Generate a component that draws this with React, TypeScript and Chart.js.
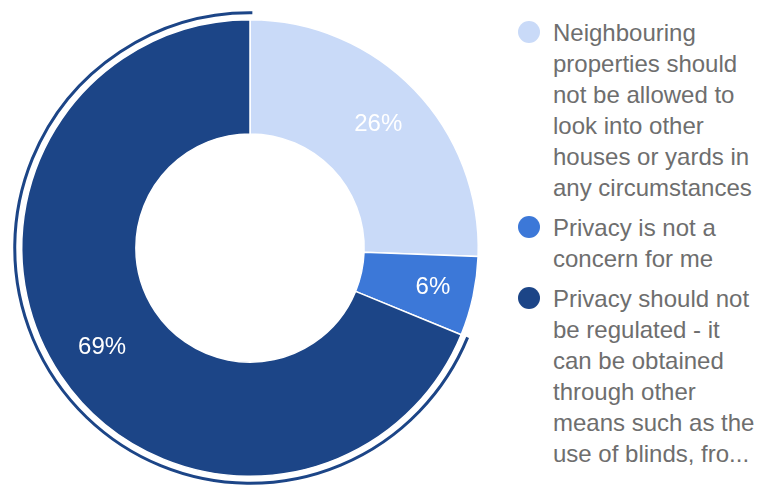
import React, { useEffect, useRef } from "react";
import { Chart, registerables } from "chart.js";

Chart.register(...registerables);

// Category labels (as wrapped in the legend)
const categoryLines: string[][] = [
  ["Neighbouring", "properties should", "not be allowed to", "look into other", "houses or yards in", "any circumstances"],
  ["Privacy is not a", "concern for me"],
  ["Privacy should not", "be regulated - it", "can be obtained", "through other", "means such as the", "use of blinds, fro..."],
];
const categories: string[] = categoryLines.map((l) => l.join(" "));
const shares: number[] = [25.6, 5.6, 68.8];
const sliceColors: string[] = ["#c9daf8", "#3c78d8", "#1c4587"];
const highlightedIndex = 2;

const FONT = "Arial, 'Liberation Sans', Helvetica, sans-serif";

const labelPlugin = {
  id: "sliceLabels",
  afterDatasetsDraw(chart: any) {
    const ctx = chart.ctx;
    const meta = chart.getDatasetMeta(0);
    const data = chart.data.datasets[0].data as number[];
    const total = data.reduce((a, b) => a + b, 0);
    ctx.save();
    // highlight ring around the selected slice
    const hl = meta.data[highlightedIndex];
    if (hl) {
      const p = hl.getProps(["x", "y", "startAngle", "endAngle", "outerRadius"], true);
      ctx.beginPath();
      ctx.arc(p.x, p.y, p.outerRadius + 7, p.startAngle, p.endAngle + 0.01);
      ctx.strokeStyle = sliceColors[highlightedIndex];
      ctx.lineWidth = 3;
      ctx.stroke();
    }
    ctx.fillStyle = "#ffffff";
    ctx.font = `24px ${FONT}`;
    ctx.textAlign = "center";
    ctx.textBaseline = "middle";
    meta.data.forEach((arc: any, i: number) => {
      const p = arc.getProps(["x", "y", "startAngle", "endAngle", "innerRadius", "outerRadius"], true);
      const mid = (p.startAngle + p.endAngle) / 2;
      const frac = data[i] / total;
      const r = p.innerRadius + (p.outerRadius - p.innerRadius) * (frac < 0.1 ? 0.64 : 0.56);
      const pct = Math.round(frac * 100);
      ctx.fillText(`${pct}%`, p.x + Math.cos(mid) * r, p.y + Math.sin(mid) * r);
    });
    ctx.restore();
  },
};

export default function App() {
  const canvasRef = useRef<HTMLCanvasElement | null>(null);

  useEffect(() => {
    if (!canvasRef.current) return;
    const chart = new Chart(canvasRef.current, {
      type: "doughnut",
      data: {
        labels: categories,
        datasets: [
          {
            data: shares,
            backgroundColor: sliceColors,
            borderColor: "#ffffff",
            borderWidth: 1.5,
            hoverBorderWidth: 1.5,
          },
        ],
      },
      options: {
        animation: false,
        responsive: true,
        maintainAspectRatio: false,
        cutout: "50%",
        layout: { padding: { left: 21, right: 21, top: 19, bottom: 8 } },
        plugins: {
          legend: { display: false },
          tooltip: { enabled: false },
          title: { display: false },
        },
        events: [],
      },
      plugins: [labelPlugin],
    });
    return () => chart.destroy();
  }, []);

  return (
    <div style={{ position: "fixed", left: 0, top: 0, width: 759, height: 485, background: "#ffffff", overflow: "hidden" }}>
      <div style={{ position: "absolute", left: 0, top: 0, width: 500, height: 485 }}>
        <canvas ref={canvasRef} />
      </div>
      <div
        style={{
          position: "absolute",
          left: 518,
          top: 17,
          width: 241,
          fontFamily: FONT,
          fontSize: 24,
          lineHeight: "31px",
          color: "#6e6e6e",
        }}
      >
        {categoryLines.map((lines, i) => (
          <div key={i} style={{ position: "relative", paddingLeft: 35, marginBottom: 9 }}>
            <span
              style={{
                position: "absolute",
                left: 0,
                top: 4,
                width: 22,
                height: 22,
                borderRadius: "50%",
                background: sliceColors[i],
              }}
            />
            {lines.map((t, j) => (
              <div key={j} style={{ whiteSpace: "nowrap" }}>
                {t}
              </div>
            ))}
          </div>
        ))}
      </div>
    </div>
  );
}
